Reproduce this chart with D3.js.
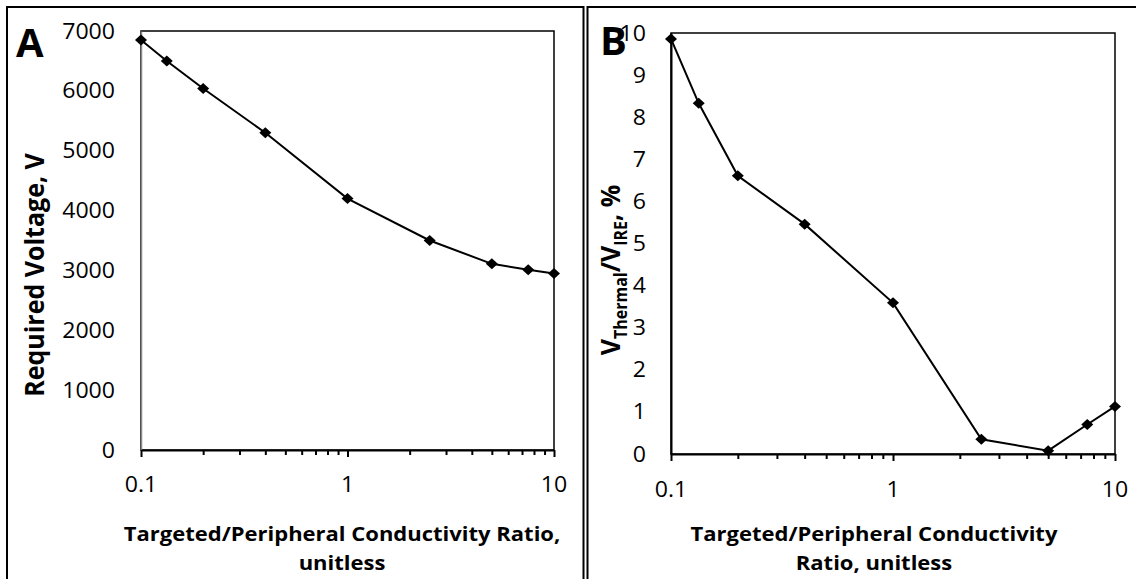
<!DOCTYPE html>
<html>
<head>
<meta charset="utf-8">
<script src="https://cdn.jsdelivr.net/npm/d3@7"></script>
<style>
  html, body { margin: 0; padding: 0; background: #fff; }
  svg { display: block; }
  text { font-family: "Open Sans", "Noto Sans", sans-serif; fill: #000; }
</style>
</head>
<body>
<svg id="chart" width="1136" height="579"></svg>
<script>
// ---- data ----
const ratios = [0.1, 0.1333, 0.2, 0.4, 1, 2.5, 5, 7.5, 10];
const requiredVoltage = [6850, 6500, 6040, 5300, 4200, 3500, 3110, 3010, 2950];
const thermalPercent = [9.86, 8.33, 6.61, 5.46, 3.59, 0.35, 0.08, 0.70, 1.13];
const xMajorTicks = [0.1, 1, 10];
const xTickLabels = ["0.1", "1", "10"];
const xMinorTicks = [0.2, 0.3, 0.4, 0.5, 0.6, 0.7, 0.8, 0.9, 2, 3, 4, 5, 6, 7, 8, 9];
const yTicksA = [0, 1000, 2000, 3000, 4000, 5000, 6000, 7000];
const yTicksB = [0, 1, 2, 3, 4, 5, 6, 7, 8, 9, 10];

const SX = 1.1; // horizontal stretch of the text in the reference
const svg = d3.select("#chart");

function label(g, x, y, str, o) {
  const sx = o.sx || SX;
  const t = g.append("text")
    .attr("transform", `translate(${x},${y}) scale(${sx},1)` + (o.rotate ? " rotate(-90)" : ""))
    .attr("text-anchor", o.anchor || "middle")
    .style("font-size", (o.size || 20) + "px")
    .style("font-weight", o.weight || 400);
  if (o.dy) t.attr("dy", o.dy);
  if (str !== null) t.text(str);
  return t;
}

// panel frames
svg.append("rect").attr("x", 7).attr("y", 7).attr("width", 576.5).attr("height", 640)
  .attr("fill", "none").attr("stroke", "#000").attr("stroke-width", 2);
svg.append("rect").attr("x", 587.5).attr("y", 7).attr("width", 640).attr("height", 640)
  .attr("fill", "none").attr("stroke", "#000").attr("stroke-width", 2);

function panel(cfg) {
  const g = svg.append("g");
  const x = d3.scaleLog().domain([0.1, 10]).range([cfg.x0, cfg.x1]);
  const y = d3.scaleLinear().domain([0, cfg.ymax]).range([cfg.yb, cfg.yt]);

  // plot-area border
  g.append("rect").attr("x", cfg.x0).attr("y", cfg.yt)
    .attr("width", cfg.x1 - cfg.x0).attr("height", cfg.yb - cfg.yt)
    .attr("fill", "none").attr("stroke", "#000").attr("stroke-width", 1.5);

  // y axis line
  const ya = g.append("g").attr("transform", `translate(${cfg.x0},0)`)
    .call(d3.axisLeft(y).tickValues([]).tickSizeOuter(0));
  ya.select(".domain").attr("stroke", cfg.yAxisColor).attr("stroke-width", cfg.yAxisWidth);

  // x axis minor + major ticks
  const xmin = g.append("g").attr("transform", `translate(0,${cfg.yb})`)
    .call(d3.axisBottom(x).tickValues(xMinorTicks).tickSize(5).tickFormat(""));
  xmin.select(".domain").remove();
  xmin.selectAll(".tick line").attr("stroke", "#000").attr("stroke-width", 2);
  const xmaj = g.append("g").attr("transform", `translate(0,${cfg.yb})`)
    .call(d3.axisBottom(x).tickValues(xMajorTicks).tickSize(7).tickSizeOuter(0).tickFormat(""));
  xmaj.select(".domain").attr("stroke", "#000").attr("stroke-width", 2);
  xmaj.selectAll(".tick line").attr("stroke", "#000").attr("stroke-width", 2);

  // tick labels
  xMajorTicks.forEach((v, i) => label(g, x(v), cfg.xLabelBase, xTickLabels[i], {size: 21}));
  cfg.yTicks.forEach(v => label(g, cfg.yLabelRight, y(v), String(v), {size: 21, anchor: "end", dy: "0.36em"}));

  // series
  const data = ratios.map((r, i) => ({r, v: cfg.values[i]}));
  g.append("path").datum(data)
    .attr("d", d3.line().x(d => x(d.r)).y(d => y(d.v)))
    .attr("fill", "none").attr("stroke", "#000").attr("stroke-width", 2);
  g.selectAll("path.mk").data(data).join("path").attr("class", "mk")
    .attr("d", "M0,-5.5L6,0L0,5.5L-6,0Z")
    .attr("transform", d => `translate(${x(d.r)},${y(d.v)})`)
    .attr("fill", "#000");

  // x title
  cfg.xTitle.forEach((s, i) => label(g, cfg.xTitleX, cfg.xTitleBase + i * 29, s, {size: 20, weight: 700}));
  // panel letter
  label(g, cfg.letterX, cfg.letterY, cfg.letter, {size: 40, weight: 700, anchor: "start", sx: 1.0});
  return g;
}

const gA = panel({
  x0: 141, x1: 554, yt: 31, yb: 450, ymax: 7000, values: requiredVoltage, yTicks: yTicksA,
  yAxisColor: "#888", yAxisWidth: 1.5, xLabelBase: 492, yLabelRight: 115,
  xTitle: ["Targeted/Peripheral Conductivity Ratio,", "unitless"], xTitleX: 342, xTitleBase: 541,
  letter: "A", letterX: 16, letterY: 57
});
label(gA, 44, 275, "Required Voltage, V", {size: 25, weight: 700, rotate: true});

const gB = panel({
  x0: 671, x1: 1115, yt: 33, yb: 454, ymax: 10, values: thermalPercent, yTicks: yTicksB,
  yAxisColor: "#000", yAxisWidth: 2, xLabelBase: 497, yLabelRight: 646,
  xTitle: ["Targeted/Peripheral Conductivity", "Ratio, unitless"], xTitleX: 874, xTitleBase: 541,
  letter: "B", letterX: 600, letterY: 55
});
const bt = label(gB, 620, 270, null, {size: 25, weight: 700, rotate: true});
bt.append("tspan").text("V");
bt.append("tspan").attr("dy", 6).style("font-size", "16px").text("Thermal");
bt.append("tspan").attr("dy", -6).text("/V");
bt.append("tspan").attr("dy", 6).style("font-size", "16px").text("IRE");
bt.append("tspan").attr("dy", -6).text(", %");
</script>
</body>
</html>
